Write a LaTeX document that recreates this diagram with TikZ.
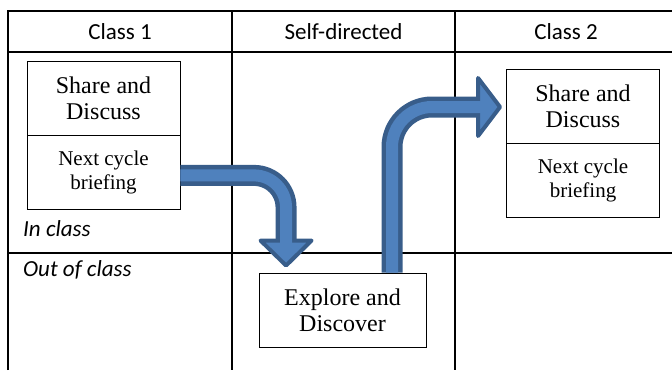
\documentclass[tikz,border=0pt]{standalone}
\usepackage{fontspec}
\setmainfont{Liberation Serif}
\newfontfamily\calibri{Carlito}
\usepackage{tikz}
\usetikzlibrary{positioning,calc}

\definecolor{shaftfill}{HTML}{4F81BD}
\definecolor{shaftline}{HTML}{385D8A}

\tikzset{
	grid/.style={line width=1.6pt},
	hdr/.style={font=\calibri\fontsize{23}{28}\selectfont,inner sep=0pt},
	side/.style={font=\calibri\itshape\fontsize{23}{28}\selectfont,inner sep=0pt,anchor=base west},
	box/.style={draw,line width=0.9pt,fill=white,align=center,inner sep=0pt,minimum width=153pt,minimum height=74pt,font=\fontsize{24}{26}\selectfont},
	small/.style={font=\fontsize{21}{24}\selectfont},
	shaftout/.style={draw=shaftline,line width=21pt},
	shaftin/.style={draw=shaftfill,line width=12pt},
	head/.style={fill=shaftfill,draw=shaftline,line width=4pt,line join=round}
}

\begin{document}
\begin{tikzpicture}[x=1pt,y=-1pt]
		\useasboundingbox (0,0) rectangle (672,370);

		\draw[grid] (8,370) -- (8,11) -- (672,11);
		\draw[grid] (8,52) -- (672,52);
		\draw[grid] (8,253) -- (672,253);
		\draw[grid] (232,11) -- (232,370);
		\draw[grid] (455,11) -- (455,370);

		\node[hdr] (hdr1) at (120,31.5) {Class 1};
		\node[hdr] (hdr2) at (343.5,31.5) {Self-directed};
		\node[hdr] (hdr3) at (566,31.5) {Class 2};
		\node[side] (inclass) at (23,236) {In class};
		\node[side] (outclass) at (23,276) {Out of class};

		\node[box] (share1) at (103.5,98) {Share and\\Discuss};
		\node[box,small,below=0pt of share1] (brief1) {Next cycle\\briefing};
		\node[box] (share2) at (583,106) {Share and\\Discuss};
		\node[box,small,below=0pt of share2] (brief2) {Next cycle\\briefing};
		\node[box,minimum width=167pt] (explore) at (342.5,310) {Explore and\\Discover};

		\coordinate (a1start) at ($(brief1.east)+(0,2.5)$);
		\coordinate (a1base) at ($(explore.north west)+(27.5,-32)$);
		\coordinate (a1tip) at ($(explore.north west)+(27.5,-7)$);
		\coordinate (a2start) at ($(explore.north)+(49.5,0)$);
		\coordinate (a2base) at ($(share2.west)+(-28,1)$);
		\coordinate (a2tip) at ($(share2.west)+(-6,1)$);

		\draw[head] ($(a1base)+(-25.5,0)$) -- ($(a1base)+(25.5,0)$) -- (a1tip) -- cycle;
		\draw[shaftout,rounded corners=32pt] (a1start) -| (a1base);
		\draw[shaftin,rounded corners=32pt] (a1start) -| ($(a1base)+(0,4)$);

		\draw[head] ($(a2base)+(0,-29)$) -- ($(a2base)+(0,29)$) -- (a2tip) -- cycle;
		\draw[shaftout,rounded corners=40pt] (a2start) |- (a2base);
		\draw[shaftin,rounded corners=40pt] (a2start) |- ($(a2base)+(4,0)$);
	\end{tikzpicture}
\end{document}
